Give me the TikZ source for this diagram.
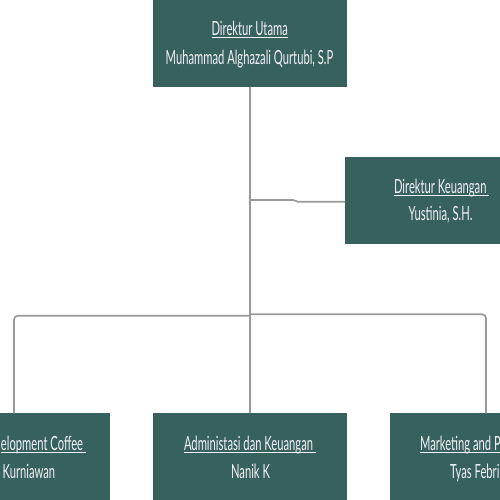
\documentclass[tikz,border=0pt]{standalone}
\usepackage{fontspec}
\setmainfont{Lato}[FakeStretch=0.575]
\begin{document}
\begin{tikzpicture}[x=1pt,y=-1pt,
  box/.style={draw=none,fill=boxteal,minimum width=193.3pt,minimum height=87pt,inner sep=0pt,outer sep=0pt},
  txt/.style={inner sep=0pt,outer sep=0pt,text=boxtext,font=\fontsize{19.5}{28}\selectfont},
  conn/.style={draw=linegray,line width=1.7pt,rounded corners=4pt}]
\definecolor{boxteal}{HTML}{37615D}
\definecolor{boxtext}{HTML}{F2F2F2}
\definecolor{linegray}{HTML}{9A9A9A}
\newcommand{\ulx}[1]{\underline{\smash{#1}}}
\useasboundingbox (0,0) rectangle (500,500);
\clip (0,0) rectangle (500,500);
% boxes
\node[box] (top) at (250,43.5) {};
\node[box] (keu) at (441.7,200.8) {};
\node[box] (left) at (13.3,456.8) {};
\node[box] (mid) at (250,456.8) {};
\node[box] (right) at (486.7,456.8) {};
% connectors
\coordinate (j1) at (250,200);
\coordinate (j2) at (293,200);
\coordinate (j3) at (298,201.7);
\coordinate (busL) at (250,315.7);
\coordinate (busR) at (250,314.3);
\coordinate (cornL) at (14,315.7);
\coordinate (cornR) at (486,314.3);
\draw[conn] (top.south) -- (mid.north);
\draw[conn,rounded corners=0pt] (j1) -- (j2) -- (j3) -- (keu.west |- j3);
\draw[conn] (busL) -- (cornL) -- (cornL |- left.north);
\draw[conn] (busR) -- (cornR) -- (cornR |- right.north);
% texts
\node[txt,anchor=base] (t1) at (249.7,36) {\ulx{Direktur Utama}};
\node[txt,anchor=base] (t2) at (249.5,65) {Muhammad Alghazali Qurtubi, S.P};
\node[txt,anchor=base] (k1) at (441.7,193.3) {\ulx{Direktur Keuangan\ }};
\node[txt,anchor=base] (k2) at (440.5,220) {Yustinia, S.H.};
\node[txt,anchor=base] (m1) at (250,450.3) {\ulx{Administasi dan Keuangan\ }};
\node[txt,anchor=base] (m2) at (250.5,478.3) {Nanik K};
\node[txt,anchor=base east] (l1) at (86,450.3) {\ulx{elopment Coffee\ }};
\node[txt,anchor=base west] (l2) at (2.7,478.3) {Kurniawan};
\node[txt,anchor=base west] (r1) at (420,450.3) {\ulx{Marketing and P}};
\node[txt,anchor=base west] (r2) at (450,478.3) {Tyas Febri};
\end{tikzpicture}
\end{document}
